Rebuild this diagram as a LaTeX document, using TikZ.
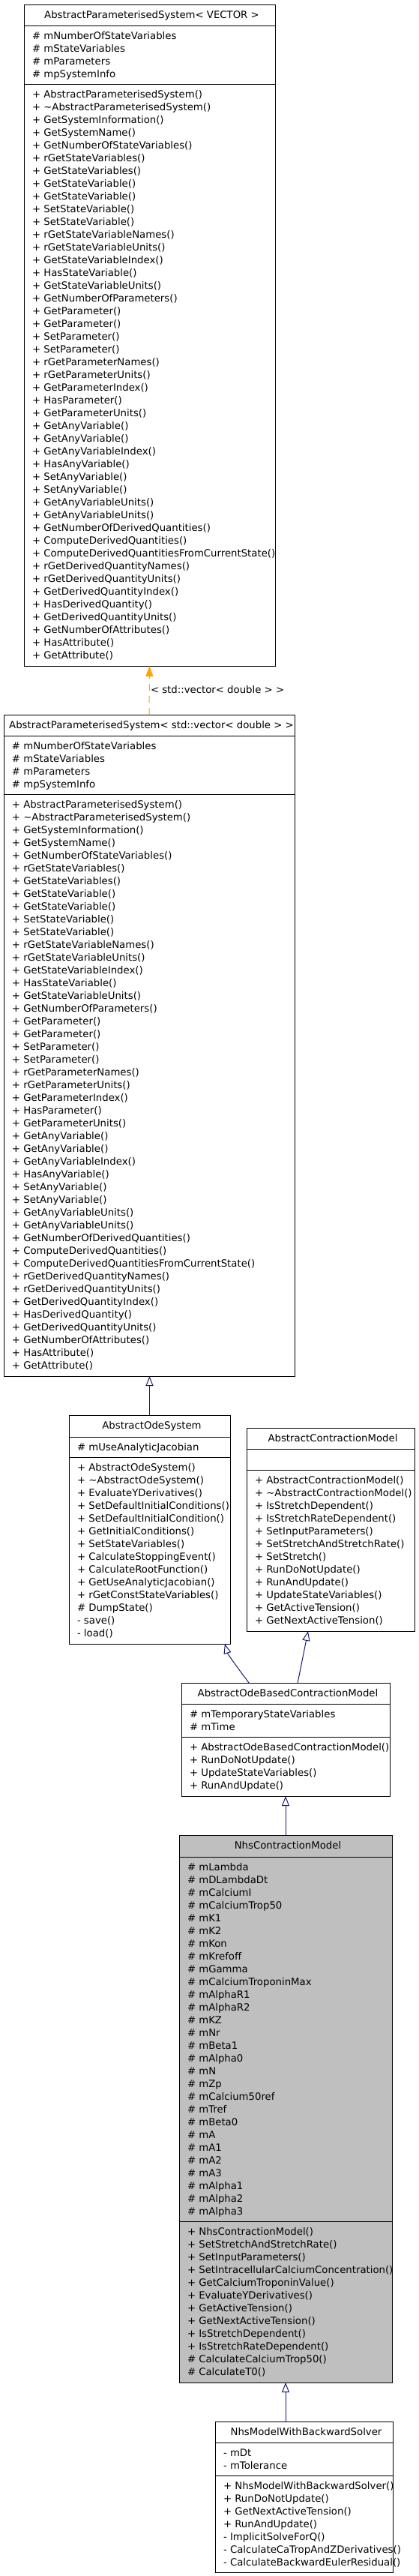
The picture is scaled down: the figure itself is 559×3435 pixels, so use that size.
\documentclass[tikz,border=0pt]{standalone}
\usepackage{fontspec}
\setmainfont{DejaVu Sans}
\usetikzlibrary{arrows.meta,calc}
\definecolor{navyedge}{RGB}{25,25,112}
\definecolor{orangeedge}{RGB}{255,165,0}
\definecolor{nhsgray}{RGB}{191,191,191}
\newcommand\dxfont{\fontsize{13.27}{17}\selectfont}
\tikzset{
  clsbox/.style={draw=black, line width=1pt, inner sep=0pt, outer sep=0pt},
  clsline/.style={draw=black, line width=1pt},
  txt/.style={anchor=base west, inner sep=0pt, outer sep=0pt, font=\dxfont},
  ttl/.style={anchor=base, inner sep=0pt, outer sep=0pt, font=\dxfont},
  inh/.style={draw=navyedge, line width=1pt, -{Triangle[open, length=13pt, width=10pt]}},
  tmpl/.style={draw=orangeedge, line width=1pt, dash pattern=on 9pt off 7pt, -{Triangle[length=14pt, width=10pt, fill=orangeedge]}}
}
% #1 name, #2 fill, #3 left, #4 right, #5 top, #6 sep1, #7 sep2, #8 bottom, #9 title
\newcommand\umlclass[9]{%
  \node[clsbox, fill=#2, minimum width={(#4-#3)*1pt}, minimum height={(#8-#5)*1pt}, anchor=north west] (#1) at (#3,#5) {};
  \draw[clsline] (#3,#6) -- (#4,#6);
  \draw[clsline] (#3,#7) -- (#4,#7);
  \node[ttl] (#1-title) at ({(#3+#4)/2+3},{#5+18.3}) {#9};
}
% #1 prefix, #2 left, #3 separator y, #4 list macro
\newcommand\memberlist[4]{%
  \foreach \mbr [count=\idx from 0] in #4 {
    \node[txt] (#1-\idx) at ({#2+11},{#3+18+17*\idx}) {\mbr};
  }
}
\def\apsattrs{\# mNumberOfStateVariables,\# mStateVariables,\# mParameters,\# mpSystemInfo}
\def\apsmethods{%
+ AbstractParameterisedSystem(),%
+ \textasciitilde AbstractParameterisedSystem(),%
+ GetSystemInformation(),%
+ GetSystemName(),%
+ GetNumberOfStateVariables(),%
+ rGetStateVariables(),%
+ GetStateVariables(),%
+ GetStateVariable(),%
+ GetStateVariable(),%
+ SetStateVariable(),%
+ SetStateVariable(),%
+ rGetStateVariableNames(),%
+ rGetStateVariableUnits(),%
+ GetStateVariableIndex(),%
+ HasStateVariable(),%
+ GetStateVariableUnits(),%
+ GetNumberOfParameters(),%
+ GetParameter(),%
+ GetParameter(),%
+ SetParameter(),%
+ SetParameter(),%
+ rGetParameterNames(),%
+ rGetParameterUnits(),%
+ GetParameterIndex(),%
+ HasParameter(),%
+ GetParameterUnits(),%
+ GetAnyVariable(),%
+ GetAnyVariable(),%
+ GetAnyVariableIndex(),%
+ HasAnyVariable(),%
+ SetAnyVariable(),%
+ SetAnyVariable(),%
+ GetAnyVariableUnits(),%
+ GetAnyVariableUnits(),%
+ GetNumberOfDerivedQuantities(),%
+ ComputeDerivedQuantities(),%
+ ComputeDerivedQuantitiesFromCurrentState(),%
+ rGetDerivedQuantityNames(),%
+ rGetDerivedQuantityUnits(),%
+ GetDerivedQuantityIndex(),%
+ HasDerivedQuantity(),%
+ GetDerivedQuantityUnits(),%
+ GetNumberOfAttributes(),%
+ HasAttribute(),%
+ GetAttribute()}
\def\aosattrs{\# mUseAnalyticJacobian}
\def\aosmethods{%
+ AbstractOdeSystem(),%
+ \textasciitilde AbstractOdeSystem(),%
+ EvaluateYDerivatives(),%
+ SetDefaultInitialConditions(),%
+ SetDefaultInitialCondition(),%
+ GetInitialConditions(),%
+ SetStateVariables(),%
+ CalculateStoppingEvent(),%
+ CalculateRootFunction(),%
+ GetUseAnalyticJacobian(),%
+ rGetConstStateVariables(),%
\# DumpState(),%
- save(),%
- load()}
\def\acmmethods{%
+ AbstractContractionModel(),%
+ \textasciitilde AbstractContractionModel(),%
+ IsStretchDependent(),%
+ IsStretchRateDependent(),%
+ SetInputParameters(),%
+ SetStretchAndStretchRate(),%
+ SetStretch(),%
+ RunDoNotUpdate(),%
+ RunAndUpdate(),%
+ UpdateStateVariables(),%
+ GetActiveTension(),%
+ GetNextActiveTension()}
\def\odebattrs{\# mTemporaryStateVariables,\# mTime}
\def\odebmethods{%
+ AbstractOdeBasedContractionModel(),%
+ RunDoNotUpdate(),%
+ UpdateStateVariables(),%
+ RunAndUpdate()}
\def\nhsattrs{%
\# mLambda,\# mDLambdaDt,\# mCalciumI,\# mCalciumTrop50,\# mK1,\# mK2,%
\# mKon,\# mKrefoff,\# mGamma,\# mCalciumTroponinMax,\# mAlphaR1,\# mAlphaR2,%
\# mKZ,\# mNr,\# mBeta1,\# mAlpha0,\# mN,\# mZp,\# mCalcium50ref,\# mTref,%
\# mBeta0,\# mA,\# mA1,\# mA2,\# mA3,\# mAlpha1,\# mAlpha2,\# mAlpha3}
\def\nhsmethods{%
+ NhsContractionModel(),%
+ SetStretchAndStretchRate(),%
+ SetInputParameters(),%
+ SetIntracellularCalciumConcentration(),%
+ GetCalciumTroponinValue(),%
+ EvaluateYDerivatives(),%
+ GetActiveTension(),%
+ GetNextActiveTension(),%
+ IsStretchDependent(),%
+ IsStretchRateDependent(),%
\# CalculateCalciumTrop50(),%
\# CalculateT0()}
\def\backattrs{- mDt,- mTolerance}
\def\backmethods{%
+ NhsModelWithBackwardSolver(),%
+ RunDoNotUpdate(),%
+ GetNextActiveTension(),%
+ RunAndUpdate(),%
- ImplicitSolveForQ(),%
- CalculateCaTropAndZDerivatives(),%
- CalculateBackwardEulerResidual()}
\begin{document}
\begin{tikzpicture}[x=1pt,y=-1pt]
\useasboundingbox (0,0) rectangle (559,3435);
\fill[white] (0,0) rectangle (559,3435);

\umlclass{aps}{white}{32}{367}{6}{34}{112}{888}{AbstractParameterisedSystem< VECTOR >}
\memberlist{apsA}{32}{34}{\apsattrs}
\memberlist{apsM}{32}{112}{\apsmethods}

\umlclass{apsv}{white}{5}{393}{953}{981}{1059}{1835}{AbstractParameterisedSystem< std::vector< double > >}
\memberlist{apsvA}{5}{981}{\apsattrs}
\memberlist{apsvM}{5}{1059}{\apsmethods}

\umlclass{aos}{white}{92}{307}{1887}{1916}{1943}{2192}{AbstractOdeSystem}
\memberlist{aosA}{92}{1916}{\aosattrs}
\memberlist{aosM}{92}{1943}{\aosmethods}

\umlclass{acm}{white}{329}{553}{1904}{1932}{1960}{2175}{AbstractContractionModel}
\memberlist{acmM}{329}{1960}{\acmmethods}

\umlclass{odeb}{white}{242}{520}{2244}{2272}{2316}{2395}{AbstractOdeBasedContractionModel}
\memberlist{odebA}{242}{2272}{\odebattrs}
\memberlist{odebM}{242}{2316}{\odebmethods}

\umlclass{nhs}{nhsgray}{239}{523}{2447}{2476}{2962}{3177}{NhsContractionModel}
\memberlist{nhsA}{239}{2476}{\nhsattrs}
\memberlist{nhsM}{239}{2962}{\nhsmethods}

\umlclass{back}{white}{287}{524}{3229}{3257}{3301}{3430}{NhsModelWithBackwardSolver}
\memberlist{backA}{287}{3257}{\backattrs}
\memberlist{backM}{287}{3301}{\backmethods}

% connectors
\draw[tmpl] (apsv.north) -- (aps.south);
\node[txt] (tlabel) at (201,924) {< std::vector< double > >};
\draw[inh] (aos.north) -- (apsv.south -| aos.north);
\draw[inh] ($(odeb.north west)!0.324!(odeb.north east)$) .. controls +(-12,-16) and +(4,14) .. ($(aos.south west)!0.967!(aos.south east)$);
\draw[inh] ($(odeb.north west)!0.558!(odeb.north east)$) -- ($(acm.south west)!0.366!(acm.south east)$);
\draw[inh] (nhs.north) -- (odeb.south);
\draw[inh] (back.north -| nhs.south) -- (nhs.south);
\end{tikzpicture}
\end{document}
